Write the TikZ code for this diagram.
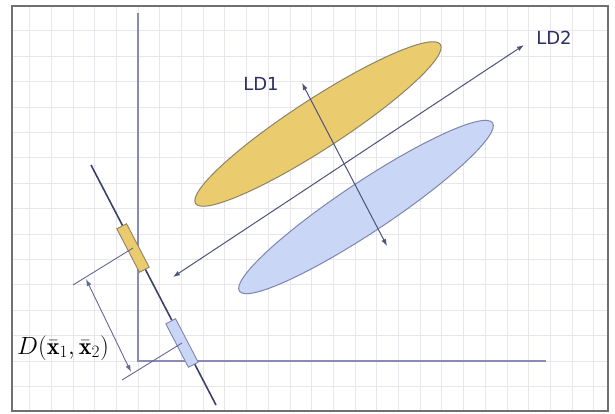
\documentclass[tikz,border=0pt]{standalone}
\usepackage{fontspec}
\usetikzlibrary{arrows.meta,calc}
\newfontfamily\ldfont{DejaVu Sans}
\definecolor{gridcol}{HTML}{E6E6EC}
\definecolor{framecol}{HTML}{707070}
\definecolor{axiscol}{HTML}{8A8AB8}
\definecolor{arrcol}{HTML}{4F5379}
\definecolor{projcol}{HTML}{3C406A}
\definecolor{perpcol}{HTML}{656894}
\definecolor{yfill}{HTML}{EACB6E}
\definecolor{ydraw}{HTML}{8C8466}
\definecolor{bfill}{HTML}{C9D6F5}
\definecolor{bdraw}{HTML}{7D86AE}
\definecolor{txtcol}{HTML}{2B2F66}
\tikzset{
  gridline/.style={gridcol, line width=0.8pt},
  axisline/.style={axiscol, line width=1.3pt},
  ldarrow/.style={arrcol, line width=1pt, {Latex[length=7pt,width=5pt]}-{Latex[length=7pt,width=5pt]}},
  dimarrow/.style={perpcol, line width=0.9pt, {Latex[length=7pt,width=5pt]}-{Latex[length=7pt,width=5pt]}},
  perpline/.style={perpcol, line width=0.9pt},
  projline/.style={projcol, line width=1.6pt},
  ylabel/.style={text=txtcol, font=\ldfont\fontsize{18}{20}\selectfont, inner sep=0pt},
  bar/.style={minimum width=49pt, minimum height=11pt, inner sep=0pt, rotate=-62.5, line width=0.9pt},
}
\begin{document}
\begin{tikzpicture}[x=1pt,y=1pt]
\useasboundingbox (0,0) rectangle (615,413);
\fill[white] (0,0) rectangle (615,413);
% grid
\foreach \k in {-5,...,21} {\draw[gridline] ({138+21.7*\k},3) -- ({138+21.7*\k},406);}
\foreach \k in {-1,...,13} {\draw[gridline] (13,{52+25.4*\k}) -- (607,{52+25.4*\k});}
% frame
\draw[framecol, line width=2.2pt] (12,2) rectangle (608,407);
% axes
\coordinate (o) at (138,52);
\coordinate (ytop) at (138,400);
\coordinate (xend) at (546,52);
\draw[axisline] (ytop) -- (o) -- (xend);
% ellipses
\coordinate (yc) at (318,289);
\coordinate (bc) at (366,206);
\draw[ydraw, fill=yfill, line width=1pt, rotate around={33:(yc)}] (yc) ellipse [x radius=146pt, y radius=25pt];
\draw[bdraw, fill=bfill, line width=1pt, rotate around={33.6:(bc)}] (bc) ellipse [x radius=152pt, y radius=25pt];
% LD arrows
\coordinate (ld1a) at (302,330);
\coordinate (ld1b) at (387,167);
\coordinate (ld2a) at (173,136);
\coordinate (ld2b) at (524,368);
\draw[ldarrow] (ld2a) -- (ld2b);
\draw[ldarrow] (ld1a) -- (ld1b);
\node[ylabel] (ld1) at (261,329) {LD1};
\node[ylabel] (ld2) at (554,375) {LD2};
% projection line
\coordinate (pa) at (91,248);
\coordinate (pb) at (216,8);
\draw[projline] (pa) -- (pb);
\node[bar, draw=ydraw, fill=yfill] (yr) at (133,165) {};
\node[bar, draw=bdraw, fill=bfill] (br) at (182,70) {};
% perpendicular lines
\coordinate (yp) at (73,128);
\coordinate (bp) at (122,33);
\draw[perpline] (yr.center) -- (yp);
\draw[perpline] (br.center) -- (bp);
\coordinate (da) at (86,134);
\coordinate (db) at (131,41);
\draw[dimarrow] (da) -- (db);
\node[anchor=base west, inner sep=0pt, font=\fontsize{24}{26}\selectfont] (dl) at (17,59) {$D(\bar{\mathbf{x}}_1,\bar{\mathbf{x}}_2)$};
\end{tikzpicture}
\end{document}
